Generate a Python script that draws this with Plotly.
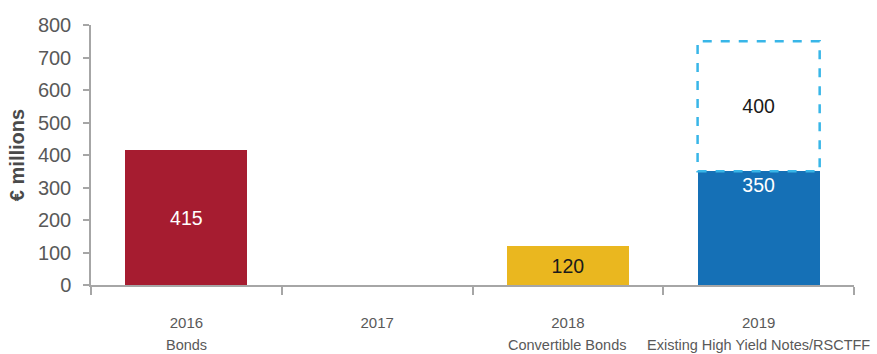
import plotly.graph_objects as go

years = ["2016", "2017", "2018", "2019"]
sub_labels = ["Bonds", "", "Convertible Bonds", "Existing High Yield Notes/RSCTFF"]
bonds = [415, None, None, None]
convertible = [None, None, 120, None]
existing_hy = [None, None, None, 350]
new_notes = [None, None, None, 400]

RED = "#A61C30"
YELLOW = "#EAB71F"
BLUE = "#1570B6"
DASH = "#38B6E8"
AXIS = "#A6A6A6"
TXT = "#595959"
FONT = "Liberation Sans, Arial, Helvetica, sans-serif"

fig = go.Figure()

def lbl(vals):
    return [str(v) if v is not None else "" for v in vals]

fig.add_trace(go.Bar(x=years, y=bonds, marker=dict(color=RED, line=dict(width=0)),
                     text=lbl(bonds), textposition="inside", insidetextanchor="middle",
                     textfont=dict(color="white", size=19.5, family=FONT)))
fig.add_trace(go.Bar(x=years, y=convertible, marker=dict(color=YELLOW, line=dict(width=0)),
                     text=lbl(convertible), textposition="inside", insidetextanchor="middle",
                     textfont=dict(color="#1a1a1a", size=19.5, family=FONT)))
fig.add_trace(go.Bar(x=years, y=existing_hy, marker=dict(color=BLUE, line=dict(width=0)),
                     text=lbl(existing_hy), textposition="inside", insidetextanchor="end",
                     textfont=dict(color="white", size=19.5, family=FONT)))
fig.add_trace(go.Bar(x=years, y=new_notes, marker=dict(color="rgba(0,0,0,0)", line=dict(width=0)),
                     text=lbl(new_notes), textposition="inside", insidetextanchor="middle",
                     textfont=dict(color="#1a1a1a", size=19.5, family=FONT)))

bar_frac = 0.64
# dashed outline around the planned notes, derived from data
for i, v in enumerate(new_notes):
    if v is not None:
        base = existing_hy[i] or 0
        fig.add_shape(type="rect", xref="x", yref="y",
                      x0=i - bar_frac / 2, x1=i + bar_frac / 2,
                      y0=base, y1=base + v,
                      line=dict(color=DASH, width=2.5, dash="dash"),
                      fillcolor="rgba(0,0,0,0)", layer="above")

for i, s in enumerate(sub_labels):
    if s:
        fig.add_annotation(x=i, xref="x", y=-0.232, yref="paper",
                           text=s, showarrow=False, yanchor="middle",
                           font=dict(size=14.5, color=TXT, family=FONT))

fig.update_layout(
    width=877, height=354,
    margin=dict(l=91, r=23, t=25, b=69),
    barmode="stack", bargap=1 - bar_frac,
    showlegend=False,
    plot_bgcolor="white", paper_bgcolor="white",
    font=dict(family=FONT, color=TXT),
)
fig.update_xaxes(type="category", categoryorder="array", categoryarray=years,
                 range=[-0.5, len(years) - 0.5],
                 showline=True, linecolor=AXIS, linewidth=1.5,
                 ticks="outside", tickson="boundaries", ticklen=8, tickcolor=AXIS, tickwidth=1.5,
                 showgrid=False, tickfont=dict(size=15, color=TXT, family=FONT),
                 tickangle=0, ticklabelstandoff=23)
fig.update_yaxes(range=[0, 800], dtick=100, showline=True, linecolor=AXIS, linewidth=1.5,
                 ticks="outside", ticklen=6, tickcolor=AXIS, tickwidth=1.5,
                 showgrid=False, zeroline=False,
                 tickfont=dict(size=20, color=TXT, family=FONT), ticklabelstandoff=8,
                 title=dict(text="<b>€ millions</b>", font=dict(size=20, color="#4a4a4a", family=FONT),
                            standoff=8))

fig.write_html("out.html")
